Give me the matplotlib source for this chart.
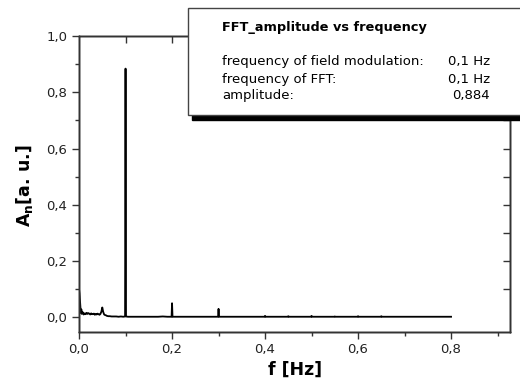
import matplotlib
matplotlib.use('Agg')
import matplotlib.pyplot as plt
from matplotlib.patches import Rectangle

# spectrum (frequency in Hz, amplitude in a.u.)
freq = [0.000, 0.001, 0.002, 0.003, 0.004, 0.005, 0.006, 0.008, 0.010, 0.012,
        0.014, 0.016, 0.018, 0.020, 0.022, 0.024, 0.026, 0.028, 0.030, 0.032,
        0.034, 0.036, 0.038, 0.040, 0.042, 0.044, 0.046, 0.048, 0.050, 0.052,
        0.054, 0.056, 0.058, 0.060, 0.063, 0.066, 0.070, 0.075, 0.080, 0.085,
        0.090, 0.095, 0.099, 0.100, 0.101, 0.105, 0.110, 0.120, 0.130, 0.140,
        0.150, 0.160, 0.170, 0.180, 0.190, 0.199, 0.200, 0.201, 0.210, 0.220,
        0.240, 0.260, 0.280, 0.299, 0.300, 0.301, 0.320, 0.350, 0.380, 0.399,
        0.400, 0.401, 0.420, 0.449, 0.450, 0.451, 0.480, 0.499, 0.500, 0.501,
        0.530, 0.549, 0.550, 0.551, 0.580, 0.599, 0.600, 0.601, 0.630, 0.649,
        0.650, 0.651, 0.680, 0.700, 0.730, 0.760, 0.780, 0.800]
amp = [0.100, 0.085, 0.060, 0.035, 0.015, 0.028, 0.012, 0.018, 0.010, 0.014,
       0.011, 0.016, 0.012, 0.015, 0.013, 0.010, 0.014, 0.011, 0.012, 0.013,
       0.009, 0.012, 0.010, 0.013, 0.011, 0.009, 0.012, 0.020, 0.035, 0.019,
       0.010, 0.008, 0.007, 0.005, 0.004, 0.004, 0.003, 0.003, 0.003, 0.002,
       0.003, 0.002, 0.003, 0.884, 0.003, 0.002, 0.002, 0.002, 0.002, 0.002,
       0.002, 0.002, 0.002, 0.003, 0.002, 0.002, 0.050, 0.002, 0.002, 0.002,
       0.002, 0.002, 0.002, 0.002, 0.030, 0.002, 0.002, 0.002, 0.002, 0.002,
       0.005, 0.002, 0.002, 0.002, 0.004, 0.002, 0.002, 0.002, 0.005, 0.002,
       0.002, 0.002, 0.003, 0.002, 0.002, 0.002, 0.004, 0.002, 0.002, 0.002,
       0.004, 0.002, 0.002, 0.002, 0.002, 0.002, 0.002, 0.002]

xticks = [0.0, 0.2, 0.4, 0.6, 0.8]
xtick_labels = ['0,0', '0,2', '0,4', '0,6', '0,8']
yticks = [0.0, 0.2, 0.4, 0.6, 0.8, 1.0]
ytick_labels = ['0,0', '0,2', '0,4', '0,6', '0,8', '1,0']
minor_x = [0.1, 0.3, 0.5, 0.7, 0.9]
minor_y = [0.1, 0.3, 0.5, 0.7, 0.9]
fine_x = [0.1, 0.2, 0.3, 0.4, 0.5, 0.6, 0.7, 0.8, 0.9]
fine_y = [0.1, 0.2, 0.3, 0.4, 0.5, 0.6, 0.7, 0.8, 0.9]

info_names = ['frequency of field modulation:', 'frequency of FFT:', 'amplitude:']
info_values = ['0,1 Hz', '0,1 Hz', '0,884']

XLIM = (0.0, 0.927)
YLIM = (-0.051, 1.0)
ink = '#333333'

fig = plt.figure(figsize=(5.2, 3.87), dpi=100)
ax = fig.add_axes([0.152, 0.143, 0.829, 0.764])

ax.plot(freq, amp, color='black', lw=1.3)
ax.set_xlim(*XLIM)
ax.set_ylim(*YLIM)

ax.set_xticks(xticks)
ax.set_xticklabels(xtick_labels)
ax.set_yticks(yticks)
ax.set_yticklabels(ytick_labels)
ax.set_xticks(minor_x, minor=True)
ax.set_yticks(minor_y, minor=True)
ax.tick_params(which='major', direction='out', length=5, width=1, labelsize=9.5, colors=ink)
ax.tick_params(which='minor', direction='out', length=3, width=1, colors=ink)
ax.tick_params(labelcolor='#222222')

# mirrored ticks on top and right point inwards
top = ax.twiny()
top.set_xlim(*XLIM)
top.set_xticks(fine_x)
top.set_xticks([], minor=True)
top.tick_params(which='both', direction='in', length=5, width=1, labeltop=False, colors=ink)
right = ax.twinx()
right.set_ylim(*YLIM)
right.set_yticks(fine_y)
right.set_yticks([], minor=True)
right.tick_params(which='both', direction='in', length=5, width=1, labelright=False, colors=ink)
for a in (ax, top, right):
    for s in a.spines.values():
        s.set_color(ink)
        s.set_linewidth(1.0)

ax.set_xlabel('f [Hz]', fontsize=12.5, fontweight='bold')
ax.xaxis.set_label_coords(0.5, -0.1)
ax.set_ylabel(r'$\mathbf{A_n}$[a. u.]', fontsize=12.5, fontweight='bold')
ax.yaxis.set_label_coords(-0.102, 0.493)

# info box with black shadow
W, H = 520.0, 387.0
bx, by, bw, bh = 188 / W, 1 - 115 / H, 340 / W, 107 / H
fig.patches.append(Rectangle((bx + 4 / W, by - 5 / H), bw, bh, transform=fig.transFigure,
                             facecolor='black', edgecolor='black', zorder=5))
fig.patches.append(Rectangle((bx, by), bw, bh, transform=fig.transFigure,
                             facecolor='white', edgecolor='#444444', lw=1.0, zorder=6))
fig.text(222 / W, 1 - 28 / H, 'FFT_amplitude vs frequency', fontsize=9.3,
         fontweight='bold', va='center', zorder=7)
for i, (n, v) in enumerate(zip(info_names, info_values)):
    y = 1 - (62 + 17 * i) / H
    fig.text(222 / W, y, n, fontsize=9.5, va='center', zorder=7)
    fig.text(490 / W, y, v, fontsize=9.5, va='center', ha='right', zorder=7)

fig.savefig('out.png', dpi=100)
